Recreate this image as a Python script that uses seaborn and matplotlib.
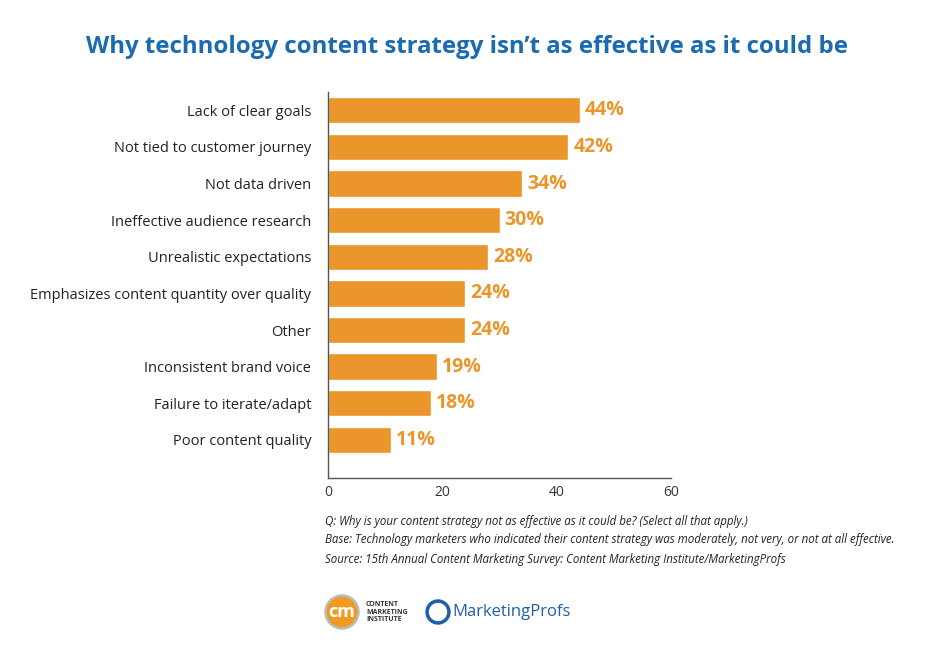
import matplotlib
matplotlib.use("Agg")
import matplotlib.pyplot as plt
import seaborn as sns
import pandas as pd
from matplotlib.patches import Circle

categories = [
    "Lack of clear goals",
    "Not tied to customer journey",
    "Not data driven",
    "Ineffective audience research",
    "Unrealistic expectations",
    "Emphasizes content quantity over quality",
    "Other",
    "Inconsistent brand voice",
    "Failure to iterate/adapt",
    "Poor content quality",
]
values = [44, 42, 34, 30, 28, 24, 24, 19, 18, 11]
x_ticks = [0, 20, 40, 60]

title = "Why technology content strategy isn\u2019t as effective as it could be"
notes = [
    "Q: Why is your content strategy not as effective as it could be? (Select all that apply.)",
    "Base: Technology marketers who indicated their content strategy was moderately, not very, or not at all effective.",
    "Source: 15th Annual Content Marketing Survey: Content Marketing Institute/MarketingProfs",
]

BAR = "#EA962A"
BLUE = "#1B6BB3"

sns.set_theme(style="white")
plt.rcParams["font.family"] = ["Open Sans", "DejaVu Sans"]

df = pd.DataFrame({"reason": categories, "pct": values})

fig = plt.figure(figsize=(9.25, 6.59), dpi=100)
ax = fig.add_axes([0.3546, 0.2747, 0.3708, 0.5857])

sns.barplot(data=df, x="pct", y="reason", color=BAR, saturation=1, width=0.72,
            orient="h", ax=ax)

for i, v in enumerate(values):
    ax.text(v + 0.9, i, f"{v}%", va="center", ha="left", color=BAR,
            fontsize=14, fontweight="bold")

ax.set_xlim(0, 60)
ax.set_ylim(len(categories) - 1 + 1.04, -0.5)
ax.set_xticks(x_ticks)
ax.set_xlabel("")
ax.set_ylabel("")
ax.tick_params(axis="x", direction="in", length=6, color="#333333", labelsize=10,
               labelcolor="#333333", pad=5)
ax.tick_params(axis="y", length=0, labelsize=10.5, labelcolor="#222222", pad=12)
for s in ["top", "right"]:
    ax.spines[s].set_visible(False)
for s in ["left", "bottom"]:
    ax.spines[s].set_color("#555555")
    ax.spines[s].set_linewidth(1.0)

fig.text(0.505, 1 - 47 / 659, title, ha="center", va="center", color=BLUE,
         fontsize=17.3, fontweight="bold")

for k, line in enumerate(notes):
    fig.text(325 / 925, 1 - (521 + 19 * k) / 659, line, ha="left", va="center",
             fontsize=8.3, style="italic", color="#222222")

# logos drawn as simple marks with text
lax = fig.add_axes([0, 0, 1, 1], facecolor="none")
lax.set_xlim(0, 925)
lax.set_ylim(659, 0)
lax.axis("off")
lax.add_patch(Circle((342, 612), 17, color="#BBBBBB"))
lax.add_patch(Circle((342, 612), 14.5, color="#F29A1F"))
lax.text(342, 612, "cm", ha="center", va="center", color="white", fontsize=13,
         fontweight="bold")
lax.text(366, 612, "CONTENT\nMARKETING\nINSTITUTE", ha="left", va="center",
         fontsize=5, fontweight="bold", color="#333333", linespacing=1.1)
lax.add_patch(Circle((438, 612), 12, color="#1E5FA8"))
lax.add_patch(Circle((438, 612), 8.5, color="white"))
lax.text(452, 612, "MarketingProfs", ha="left", va="center", fontsize=12,
         color="#1E5FA8")

fig.savefig("out.png", dpi=100, facecolor="white")
